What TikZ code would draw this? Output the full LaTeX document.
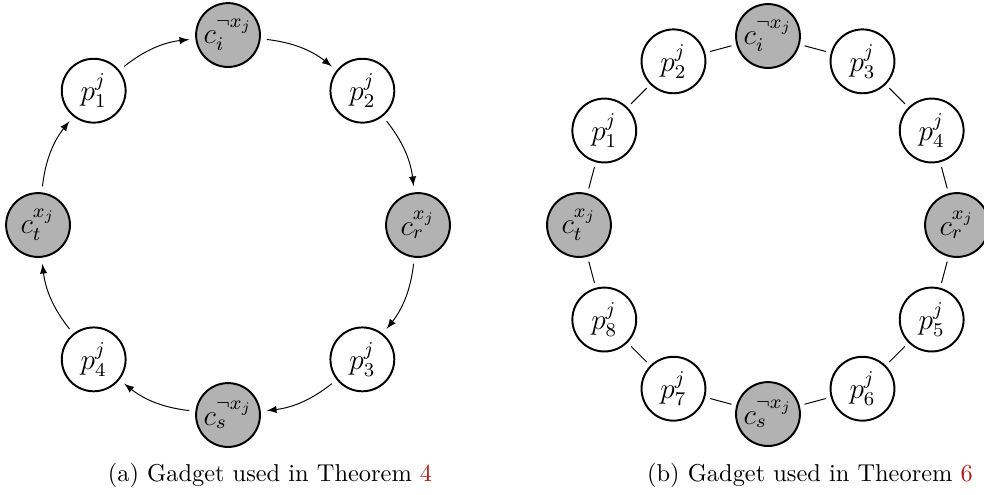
\documentclass[tikz,border=0pt]{standalone}
\usepackage{amsmath,amssymb}
\usepackage{xcolor}
\usepackage{tikz}
\usetikzlibrary{shapes,arrows,positioning,calc}

\definecolor{linkred}{rgb}{0.7,0.1,0.1}

\begin{document}
\begin{tikzpicture}[
    pnode/.style={circle, draw, thick, fill=white, minimum size=0.92cm, inner sep=0pt, font=\large},
    cnode/.style={pnode, fill=black!30},
    arrow/.style={-latex, shorten <=2.5pt, shorten >=2.5pt},
    link/.style={shorten <=2pt, shorten >=2pt}
  ]
    \useasboundingbox (0,0) rectangle (14.176,7.117);

    % (a) directed gadget
    \begin{scope}[shift={(3.285,3.875)}]
      \node[cnode] (ci) at (90:2.737) {$c_i^{\neg x_j}$};
      \node[pnode] (p2) at (45:2.737) {$p_2^j$};
      \node[cnode] (cr) at (0:2.737) {$c_r^{x_j}$};
      \node[pnode] (p3) at (-45:2.737) {$p_3^j$};
      \node[cnode] (cs) at (-90:2.737) {$c_s^{\neg x_j}$};
      \node[pnode] (p4) at (-135:2.737) {$p_4^j$};
      \node[cnode] (ct) at (180:2.737) {$c_t^{x_j}$};
      \node[pnode] (p1) at (135:2.737) {$p_1^j$};
    \end{scope}

    \draw[arrow] (ci) to[bend left=16] (p2);
    \draw[arrow] (p2) to[bend left=16] (cr);
    \draw[arrow] (cr) to[bend left=16] (p3);
    \draw[arrow] (p3) to[bend left=16] (cs);
    \draw[arrow] (cs) to[bend left=16] (p4);
    \draw[arrow] (p4) to[bend left=16] (ct);
    \draw[arrow] (ct) to[bend left=16] (p1);
    \draw[arrow] (p1) to[bend left=16] (ci);

    % (b) undirected gadget
    \begin{scope}[shift={(11.064,3.875)}]
      \node[cnode] (bci) at (90:2.723) {$c_i^{\neg x_j}$};
      \node[pnode] (bp3) at (60:2.723) {$p_3^j$};
      \node[pnode] (bp4) at (30:2.723) {$p_4^j$};
      \node[cnode] (bcr) at (0:2.723) {$c_r^{x_j}$};
      \node[pnode] (bp5) at (-30:2.723) {$p_5^j$};
      \node[pnode] (bp6) at (-60:2.723) {$p_6^j$};
      \node[cnode] (bcs) at (-90:2.723) {$c_s^{\neg x_j}$};
      \node[pnode] (bp7) at (-120:2.723) {$p_7^j$};
      \node[pnode] (bp8) at (-150:2.723) {$p_8^j$};
      \node[cnode] (bct) at (180:2.723) {$c_t^{x_j}$};
      \node[pnode] (bp1) at (150:2.723) {$p_1^j$};
      \node[pnode] (bp2) at (120:2.723) {$p_2^j$};
    \end{scope}

    \draw[link] (bci) -- (bp3);
    \draw[link] (bp3) -- (bp4);
    \draw[link] (bp4) -- (bcr);
    \draw[link] (bcr) -- (bp5);
    \draw[link] (bp5) -- (bp6);
    \draw[link] (bp6) -- (bcs);
    \draw[link] (bcs) -- (bp7);
    \draw[link] (bp7) -- (bp8);
    \draw[link] (bp8) -- (bct);
    \draw[link] (bct) -- (bp1);
    \draw[link] (bp1) -- (bp2);
    \draw[link] (bp2) -- (bci);

    % captions
    \node[anchor=base] (capa) at (3.89,0.173) {(a) Gadget used in Theorem \textcolor{linkred}{4}};
    \node[anchor=base] (capb) at (11.669,0.173) {(b) Gadget used in Theorem \textcolor{linkred}{6}};
  \end{tikzpicture}
\end{document}
